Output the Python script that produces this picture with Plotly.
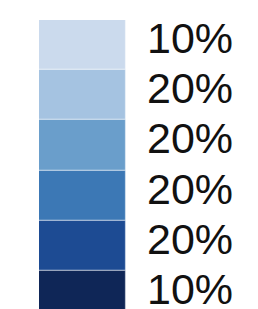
import plotly.graph_objects as go

labels = ["10%", "20%", "20%", "20%", "20%", "10%"]
rows = [0, 1, 2, 3, 4, 5]
seg_size = [1, 1, 1, 1, 1, 1]
colors = ["#cbdaed", "#a5c3e1", "#6a9ecb", "#3c78b5", "#1d4b93", "#0f2657"]

fig = go.Figure(
    go.Bar(
        orientation="h",
        y=rows,
        x=seg_size,
        marker=dict(color=colors, line=dict(color="rgba(255,255,255,0.35)", width=1.2)),
        width=1.0,
        hoverinfo="skip",
    )
)

for r, lab in zip(rows, labels):
    fig.add_annotation(
        x=1, xref="paper", xanchor="left", xshift=19,
        y=r, yref="y", yanchor="middle", yshift=7,
        text=lab, showarrow=False,
        font=dict(family="Liberation Sans", size=43, color="#111111"),
    )

fig.update_layout(
    width=258,
    height=309,
    margin=dict(l=31, r=140, t=12, b=0),
    paper_bgcolor="white",
    plot_bgcolor="white",
    showlegend=False,
    bargap=0,
    xaxis=dict(visible=False, range=[0, 1], fixedrange=True),
    yaxis=dict(
        range=[5.42, -0.5],
        visible=False,
        fixedrange=True,
    ),
)

fig.write_html("out.html")
